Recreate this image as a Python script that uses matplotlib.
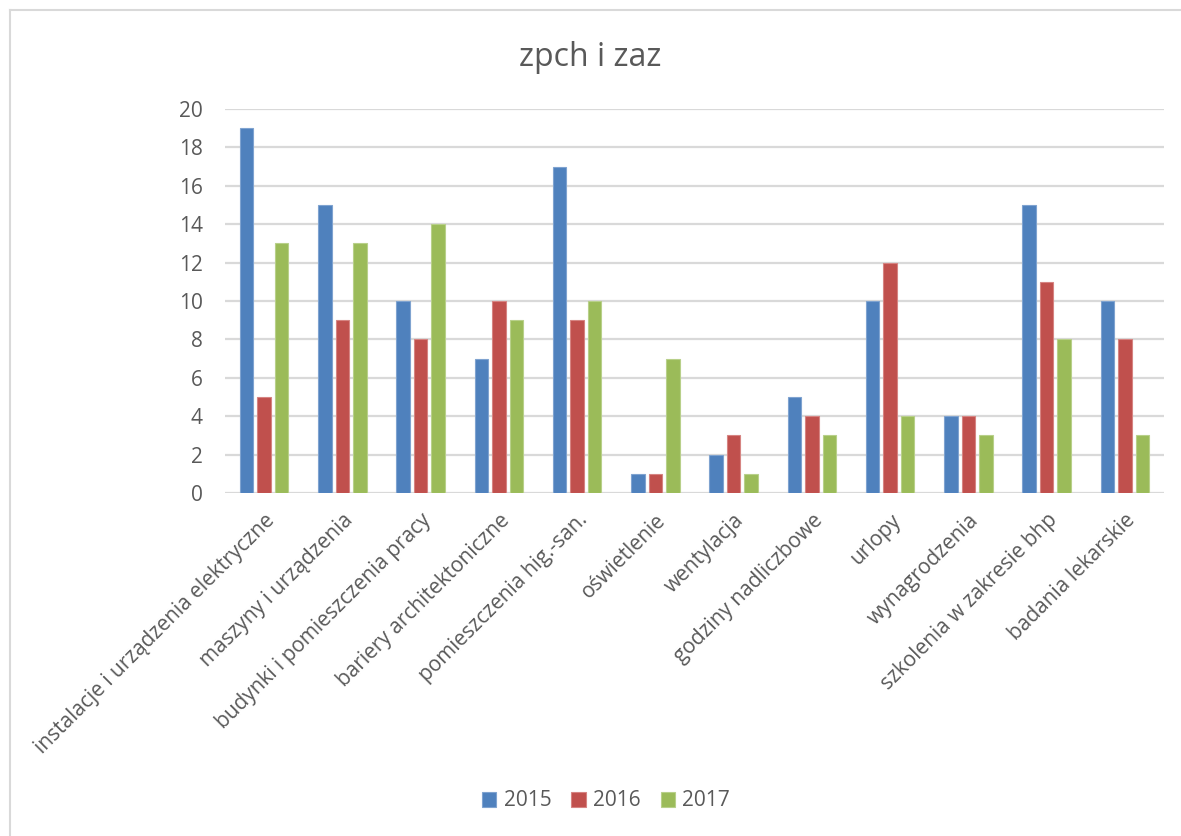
import numpy as np
import matplotlib.pyplot as plt
from matplotlib.lines import Line2D

plt.rcParams['font.family'] = ['Open Sans', 'DejaVu Sans']

categories = [
    "instalacje i urządzenia elektryczne",
    "maszyny i urządzenia",
    "budynki i pomieszczenia pracy",
    "bariery architektoniczne",
    "pomieszczenia hig.-san.",
    "oświetlenie",
    "wentylacja",
    "godziny nadliczbowe",
    "urlopy",
    "wynagrodzenia",
    "szkolenia w zakresie bhp",
    "badania lekarskie",
]
years = ["2015", "2016", "2017"]
v2015 = [19, 15, 10, 7, 17, 1, 2, 5, 10, 4, 15, 10]
v2016 = [5, 9, 8, 10, 9, 1, 3, 4, 12, 4, 11, 8]
v2017 = [13, 13, 14, 9, 10, 7, 1, 3, 4, 3, 8, 3]
yticks = [0, 2, 4, 6, 8, 10, 12, 14, 16, 18, 20]

colors = ["#4F81BD", "#C0504D", "#9BBB59"]
edges = ["#7FA3D0", "#D68482", "#B8D08A"]
text_color = "#595959"

W, H = 1181, 836
fig = plt.figure(figsize=(W / 100, H / 100), dpi=100)
ax = fig.add_axes([225 / W, 1 - 493 / H, (1164 - 225) / W, (493 - 109) / H])

x = np.arange(len(categories))
width = 0.175
step = 0.224
for i, (vals, name) in enumerate(zip([v2015, v2016, v2017], years)):
    ax.bar(x + (i - 1) * step, vals, width, color=colors[i], edgecolor=edges[i],
           linewidth=0.8, label=name, zorder=3)

ax.set_xlim(-0.5, len(categories) - 0.5)
ax.set_ylim(0, 20)
ax.set_yticks(yticks)
ax.yaxis.grid(True, color="#D9D9D9", linewidth=1.6, zorder=0)
ax.set_axisbelow(True)
for s in ax.spines.values():
    s.set_visible(False)
ax.tick_params(axis="both", length=0, colors=text_color, labelsize=15)
ax.tick_params(axis="y", pad=16)
ax.set_xticks(x)
ax.set_xticklabels(categories, rotation=45, ha="right", va="top",
                   rotation_mode="anchor", fontsize=15, color=text_color)
ax.tick_params(axis="x", pad=12)

fig.text(0.5, 1 - 57 / H, "zpch i zaz", ha="center", va="center",
         fontsize=23, color=text_color)

handles, labels = ax.get_legend_handles_labels()
fig.legend(handles, labels, loc="center", bbox_to_anchor=(606 / W, 1 - 801 / H),
           ncol=3, frameon=False, fontsize=15, labelcolor=text_color,
           handlelength=0.7, handleheight=0.7, handletextpad=0.35,
           columnspacing=0.95)

# chart frame
fig.add_artist(Line2D([10 / W, 10 / W], [0, 1 - 10 / H], color="#D9D9D9", linewidth=1.5))
fig.add_artist(Line2D([10 / W, 1], [1 - 10 / H, 1 - 10 / H], color="#D9D9D9", linewidth=1.5))

fig.savefig("out.png", dpi=100)
